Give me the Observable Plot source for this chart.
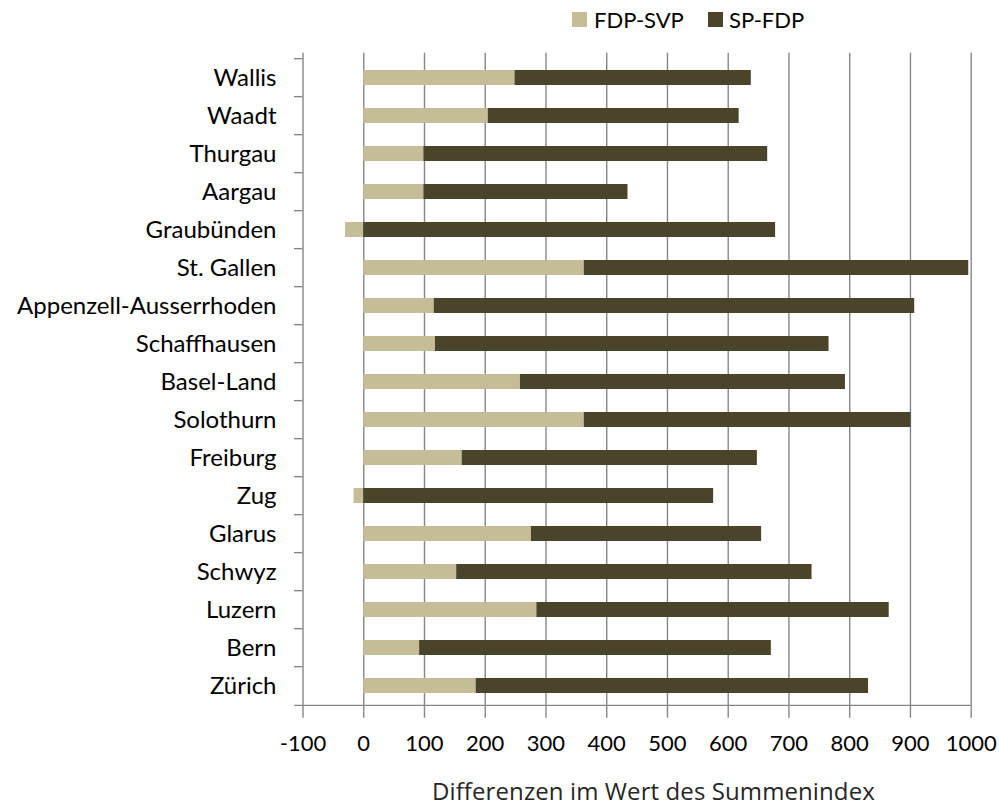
<!DOCTYPE html>
<html>
<head>
<meta charset="utf-8">
<script src="https://cdn.jsdelivr.net/npm/d3@7"></script>
<script src="https://cdn.jsdelivr.net/npm/@observablehq/plot@0.6"></script>
<style>
  html, body { margin: 0; padding: 0; background: #fff; }
  #wrap { position: relative; width: 999px; height: 808px; overflow: hidden; font-family: Lato, sans-serif; }
  #legend { position: relative; height: 48px; }
  #chart svg { display: block; }
  .sw { position: absolute; width: 15px; height: 15px; top: 12px; }
  .lt { position: absolute; top: 5px; font-size: 22px; line-height: 30px; color: #000; white-space: nowrap; }
  #caption { position: relative; height: 40px; }
  #caption span { position: absolute; left: 432px; top: 9px; font-family: "Open Sans", sans-serif; font-size: 24px; line-height: 28px; color: #262626; white-space: nowrap; letter-spacing: 0.1px; }
</style>
</head>
<body>
<div id="wrap">
  <div id="legend"></div>
  <div id="chart"></div>
  <div id="caption"></div>
</div>
<script>
const cantons = ["Wallis","Waadt","Thurgau","Aargau","Graubünden","St. Gallen","Appenzell-Ausserrhoden","Schaffhausen","Basel-Land","Solothurn","Freiburg","Zug","Glarus","Schwyz","Luzern","Bern","Zürich"];
const fdpSvp = [249,205,99,99,-30,363,116,118,258,363,162,-16,276,153,285,92,185];
const spFdp  = [389,413,566,336,678,633,791,648,535,538,486,576,379,585,580,579,646];
const seriesNames = ["FDP-SVP","SP-FDP"];
const seriesColors = ["#C4BD97","#4A452A"];
const xTicks = [-100,0,100,200,300,400,500,600,700,800,900,1000];
const axisTitle = "Differenzen im Wert des Summenindex";

const rows = cantons.flatMap((c, i) => [
  {canton: c, series: seriesNames[0], value: fdpSvp[i]},
  {canton: c, series: seriesNames[1], value: spFdp[i]}
]);

const H = 720, mTop = 4.7, mBottom = 57.3;
const step = (H - mTop - mBottom) / cantons.length;
const gray = "#868686";

const chart = Plot.plot({
  width: 999,
  height: H,
  marginLeft: 302.5,
  marginRight: 28.3,
  marginTop: mTop,
  marginBottom: mBottom,
  style: {fontFamily: "Lato, sans-serif", background: "#fff"},
  x: {domain: [-100, 1000], ticks: xTicks},
  y: {domain: cantons, paddingInner: 0.604, paddingOuter: 0.302},
  color: {domain: seriesNames, range: seriesColors},
  marks: [
    Plot.gridX(xTicks.filter(v => v > -100), {stroke: gray, strokeOpacity: 1, strokeWidth: 1.4}),
    Plot.barX(rows, Plot.stackX({y: "canton", x: "value", fill: "series"})),
    Plot.ruleX([-100], {stroke: gray, strokeWidth: 1.4}),
    Plot.ruleY(cantons, {y: d => d, x1: -114, x2: -100, dy: -step / 2, stroke: gray, strokeWidth: 1.4}),
    Plot.ruleY([cantons[cantons.length - 1]], {y: d => d, x1: -114, x2: 1000, dy: step / 2, stroke: gray, strokeWidth: 1.4}),
    Plot.axisX({ticks: xTicks, tickSize: 7, tickPadding: 17, fontSize: 22, stroke: gray, strokeWidth: 1.4, fill: "#000", tickFormat: d => String(d), label: null}),
    Plot.axisY({tickSize: 0, tickPadding: 26.5, fontSize: 24, fill: "#000", label: null})
  ]
});
document.getElementById("chart").appendChild(chart);

// legend
const legend = document.getElementById("legend");
const swX = [572, 708], txX = [594, 729];
seriesNames.forEach((name, i) => {
  const sw = document.createElement("div");
  sw.className = "sw";
  sw.style.left = swX[i] + "px";
  sw.style.background = seriesColors[i];
  legend.appendChild(sw);
  const t = document.createElement("div");
  t.className = "lt";
  t.style.left = txX[i] + "px";
  t.textContent = name;
  legend.appendChild(t);
});

const cap = document.createElement("span");
cap.textContent = axisTitle;
document.getElementById("caption").appendChild(cap);
</script>
</body>
</html>
